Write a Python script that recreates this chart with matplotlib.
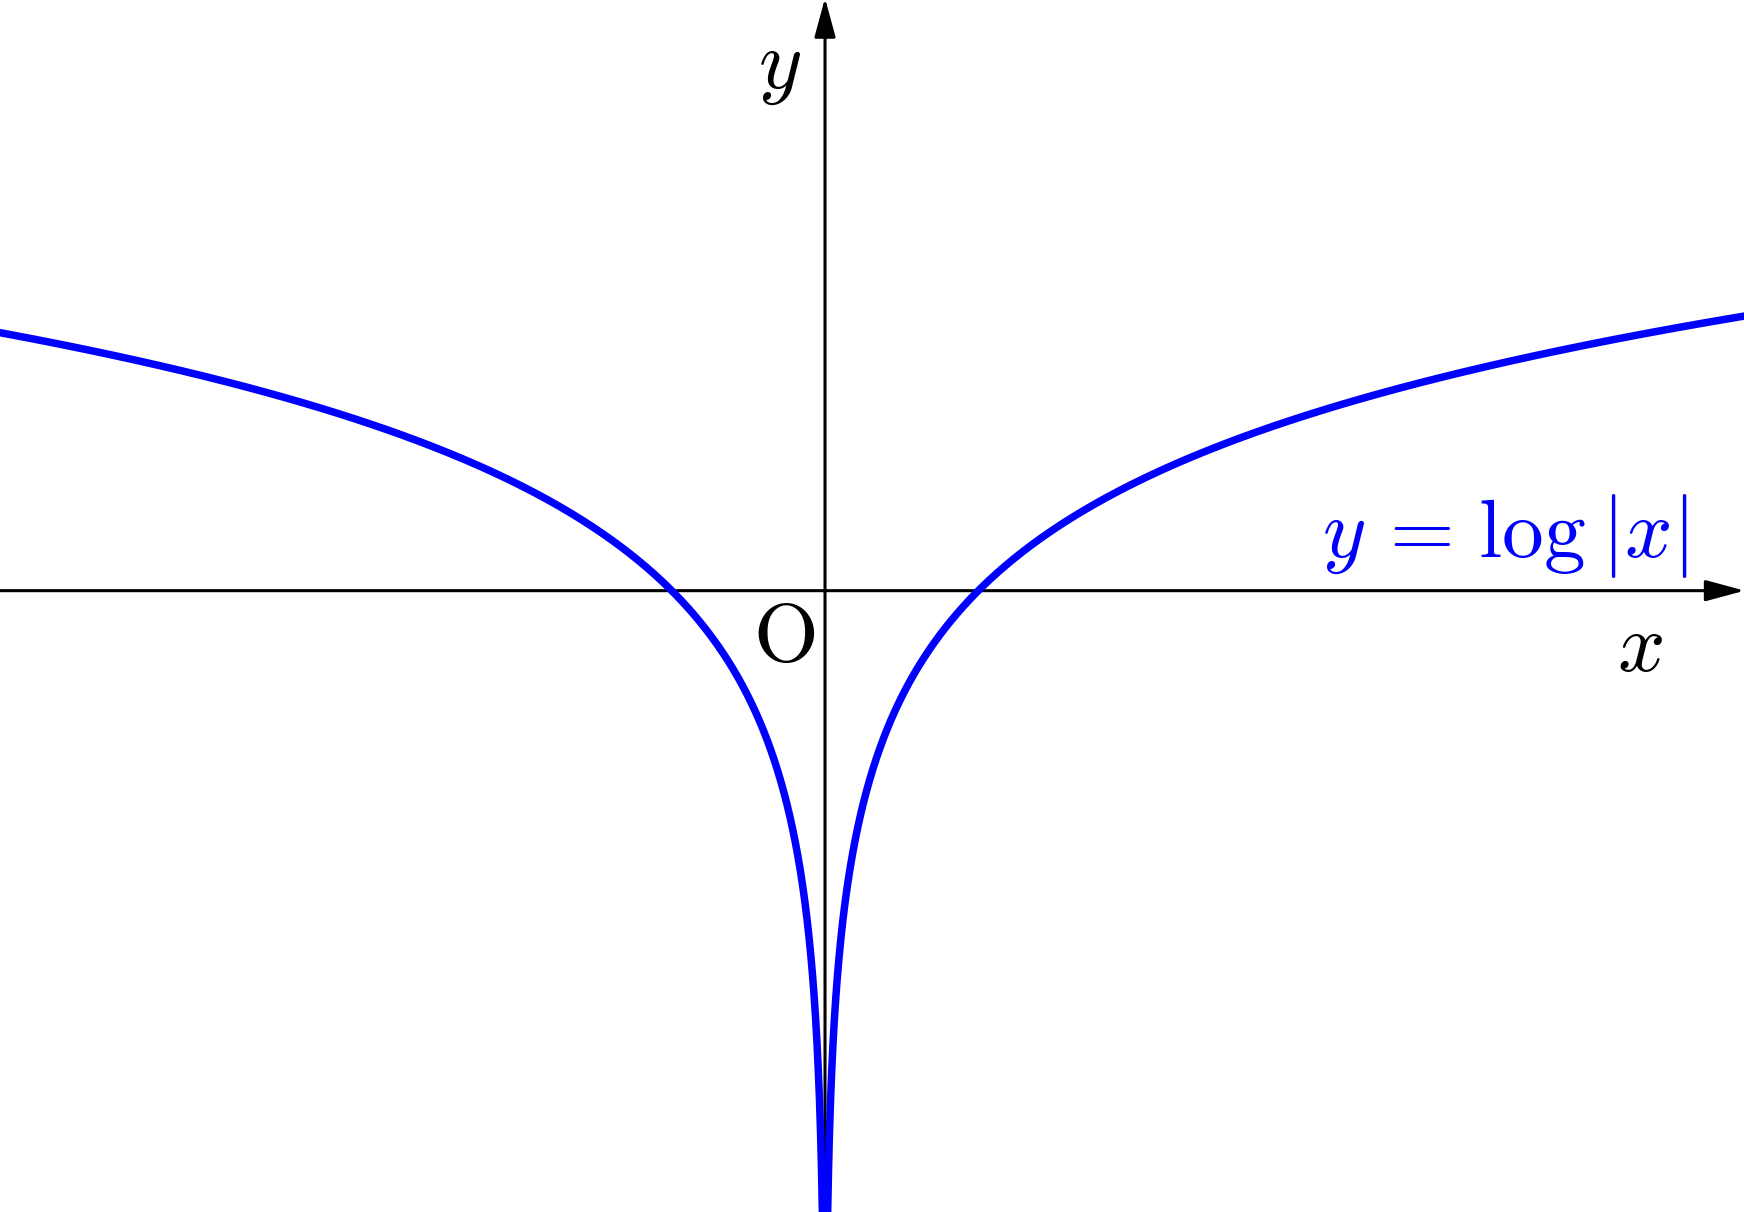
import numpy as np
import matplotlib
matplotlib.use("Agg")
import matplotlib.pyplot as plt

plt.rcParams['mathtext.fontset'] = 'cm'
plt.rcParams['font.family'] = ['DejaVu Serif']

# view window (data units)
x_min, x_max = -5.382, 5.995
y_min, y_max = -4.053, 3.853

# function samples: y = log|x|
x_left = -np.geomspace(0.005, 5.5, 800)
x_right = np.geomspace(0.005, 6.1, 800)

curve_color = '#0000ff'
label_text = r'$y\,=\hspace{0.13}\log\hspace{0.06}|x|$'

fig = plt.figure(figsize=(17.44, 12.12), dpi=100)
ax = fig.add_axes([0, 0, 1, 1])
ax.set_xlim(x_min, x_max)
ax.set_ylim(y_min, y_max)
ax.axis('off')

arrow_style = '-|>,head_length=0.37,head_width=0.1'
# x axis
ax.annotate('', xy=(5.999, 0), xytext=(x_min, 0), annotation_clip=False,
            arrowprops=dict(arrowstyle=arrow_style, mutation_scale=65, lw=2.2,
                            color='black', shrinkA=0, shrinkB=0), zorder=2)
# y axis
ax.annotate('', xy=(0, 3.866), xytext=(0, y_min), annotation_clip=False,
            arrowprops=dict(arrowstyle=arrow_style, mutation_scale=65, lw=2.2,
                            color='black', shrinkA=0, shrinkB=0), zorder=2)

ax.plot(x_left, np.log(np.abs(x_left)), color=curve_color, lw=5.4, zorder=3,
        solid_capstyle='butt')
ax.plot(x_right, np.log(np.abs(x_right)), color=curve_color, lw=5.4, zorder=3,
        solid_capstyle='butt')

fs = 60
ax.text(-0.296, 3.417, r'$y$', fontsize=fs, ha='center', va='center')
ax.text(5.316, -0.372, r'$x$', fontsize=fs, ha='center', va='center')
ax.text(-0.268, -0.312, r'$\mathrm{O}$', fontsize=fs, ha='center', va='center')
ax.text(5.623, 0.22, label_text, fontsize=fs, ha='right', va='baseline',
        color=curve_color)

fig.savefig('out.png', dpi=100)
